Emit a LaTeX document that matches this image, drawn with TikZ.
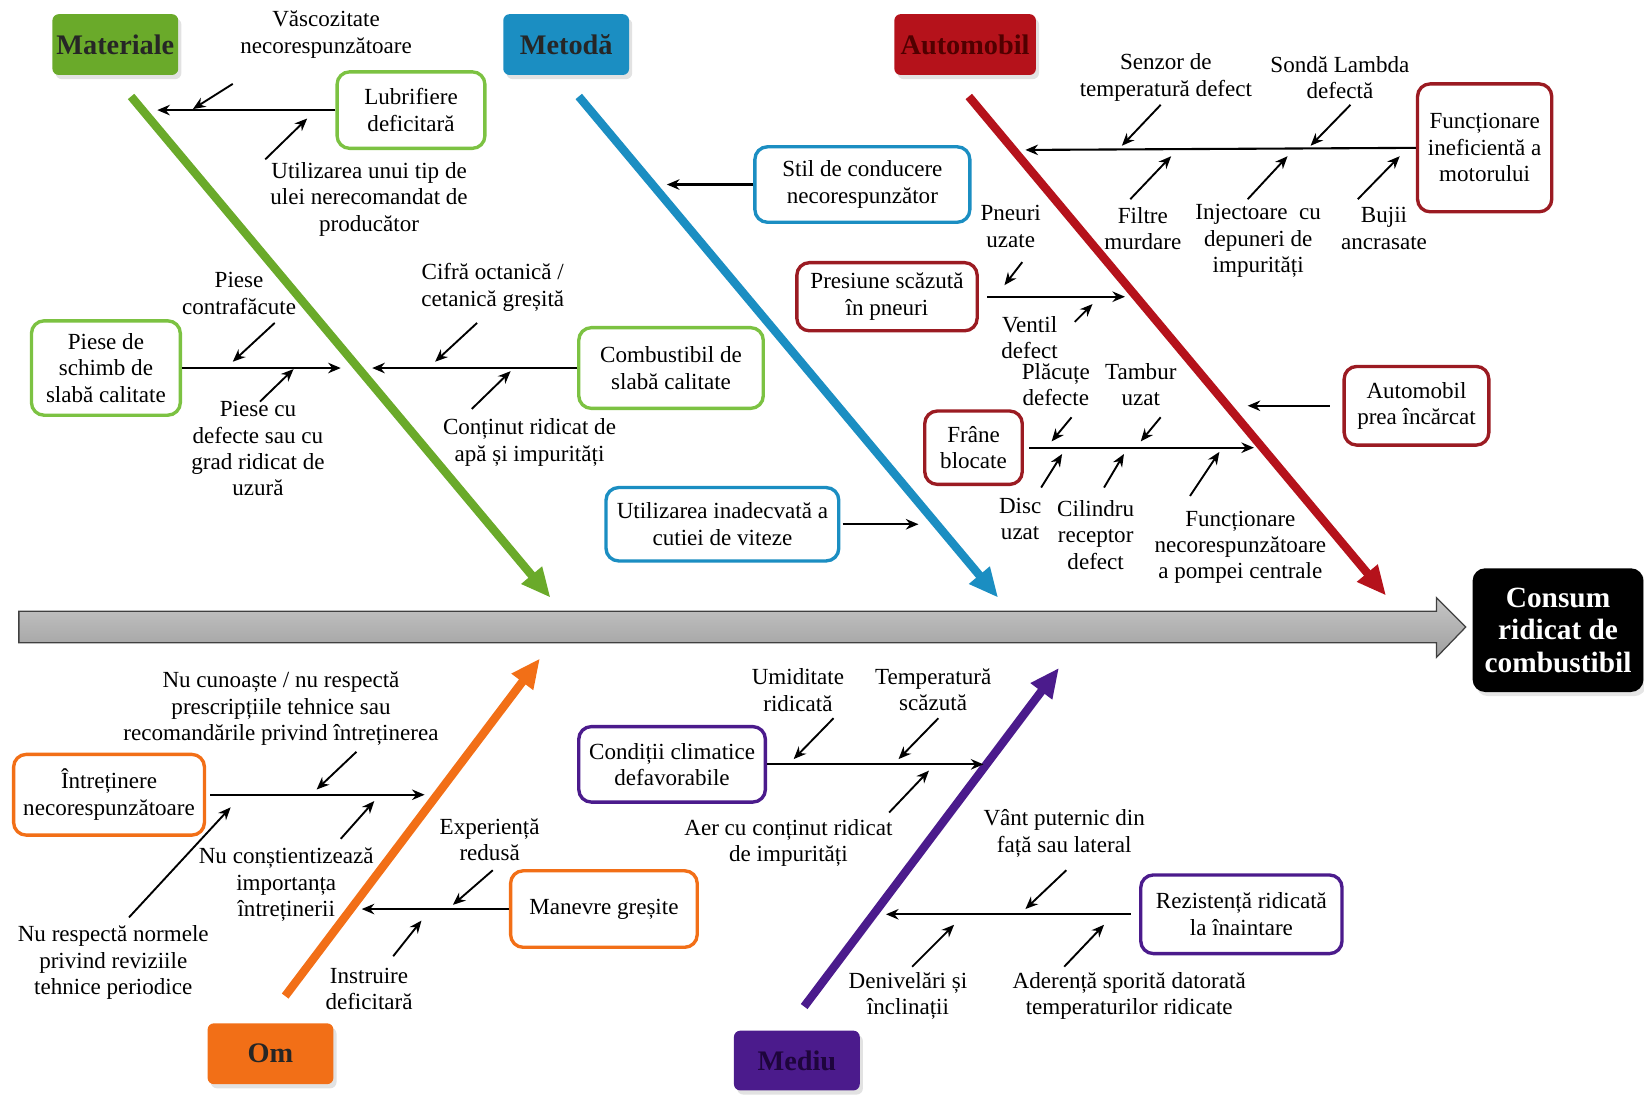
\documentclass[tikz,border=0pt]{standalone}
\usepackage{fontspec}
\setmainfont{Liberation Serif}
\usetikzlibrary{arrows.meta,shadows}
\definecolor{cgreen}{HTML}{6AAA2A}
\definecolor{cgreenL}{HTML}{7CC242}
\definecolor{cblue}{HTML}{1B8EC2}
\definecolor{cred}{HTML}{B5121B}
\definecolor{cdred}{HTML}{9B1B22}
\definecolor{corange}{HTML}{F26F17}
\definecolor{cpurple}{HTML}{4B1B8C}
\begin{document}
\begin{tikzpicture}[x=0.5pt,y=-0.5pt,
  txt/.style={align=center, inner sep=0pt, font=\fontsize{11}{12.6}\selectfont},
  cat/.style={rounded corners=3pt, minimum width=60pt, minimum height=29pt, inner sep=0pt,
     font=\fontsize{13.5}{15}\selectfont\bfseries,
     drop shadow={shadow xshift=1.5pt, shadow yshift=-2pt, fill=gray!45}},
  cause/.style={draw, rounded corners=6pt, fill=white, line width=1.6pt, align=center,
     inner sep=0pt, font=\fontsize{11}{12.6}\selectfont},
  sub/.style={-{Stealth[length=6pt,width=5pt]}, line width=0.9pt, black},
  branch/.style={-{Stealth[length=6pt,width=5pt]}, line width=1pt, black},
  spine/.style={line width=4pt, -{Triangle[length=14pt,width=12pt]}},
]
\useasboundingbox (0,0) rectangle (1568,1046);

% ---------- main arrow ----------
\shade[top color=gray!45, middle color=gray!20, bottom color=gray!75, draw=gray!50!black, line width=0.6pt]
  (18,583) -- (1370,583) -- (1370,570) -- (1398,598) -- (1370,627) -- (1370,613) -- (18,613) -- cycle;
\node[fill=black, rounded corners=6pt, text=white, minimum width=81.5pt, minimum height=59pt,
  align=center, inner sep=0pt, font=\fontsize{14}{15.5}\selectfont\bfseries,
  drop shadow={shadow xshift=1.5pt, shadow yshift=-2pt, fill=gray!40}] (consum) at (1486,601)
  {Consum\\ridicat de\\combustibil};

% ---------- category boxes ----------
\node[cat, fill=cgreen, text=black!85] (mat) at (110,42.5) {Materiale};
\node[cat, fill=cblue, text=black!85] (met) at (540,42.5) {Metodă};
\node[cat, fill=cred, text={rgb,255:red,80;green,0;blue,0}, minimum width=67.5pt] (aut) at (920.5,42.5) {Automobil};
\node[cat, fill=corange, text=black!85] (om) at (258,1005) {Om};
\node[cat, fill=cpurple, text={rgb,255:red,30;green,5;blue,60}, minimum height=28.5pt] (med) at (760,1011.5) {Mediu};

% ---------- spines ----------
\coordinate (gs) at (125,92);  \coordinate (ge) at (525,570);
\coordinate (bs) at (552,92);  \coordinate (be) at (952,570);
\coordinate (rs) at (924,92);  \coordinate (re) at (1322,568);
\coordinate (os) at (272,950); \coordinate (oe) at (515,628);
\coordinate (ps) at (767,960); \coordinate (pe) at (1010,637);
\draw[spine, cgreen] (gs) -- (ge);
\draw[spine, cblue] (bs) -- (be);
\draw[spine, cred] (rs) -- (re);
\draw[spine, corange] (os) -- (oe);
\draw[spine, cpurple] (ps) -- (pe);

% ---------- cause boxes ----------
\node[cause, draw=cgreenL, minimum width=70.5pt, minimum height=36.5pt] (lub) at (392,105) {Lubrifiere\\deficitară};
\node[cause, draw=cgreenL, minimum width=71pt, minimum height=45pt] (piese) at (101,351) {Piese de\\schimb de\\slabă calitate};
\node[cause, draw=cgreenL, minimum width=88pt, minimum height=38.5pt] (comb) at (640,351) {Combustibil de\\slabă calitate};
\node[cause, draw=cblue, minimum width=102.5pt, minimum height=36pt] (stil) at (822.5,176) {Stil de conducere\\necorespunzător};
\node[cause, draw=cblue, minimum width=111pt, minimum height=35pt] (util) at (689,500) {Utilizarea inadecvată a\\cutiei de viteze};
\node[cause, draw=cdred, minimum width=64pt, minimum height=61pt] (func) at (1416,141) {Funcționare\\ineficientă a\\motorului};
\node[cause, draw=cdred, minimum width=86pt, minimum height=32.5pt] (pres) at (846,283) {Presiune scăzută\\în pneuri};
\node[cause, draw=cdred, minimum width=46.5pt, minimum height=35pt] (frane) at (928.5,427) {Frâne\\blocate};
\node[cause, draw=cdred, minimum width=69pt, minimum height=37.5pt] (auto) at (1351,387) {Automobil\\prea încărcat};
\node[cause, draw=corange, minimum width=91pt, minimum height=38.5pt] (intr) at (104,758) {Întreținere\\necorespunzătoare};
\node[cause, draw=corange, minimum width=89pt, minimum height=36.5pt] (man) at (576,867) {Manevre greșite};
\node[cause, draw=cpurple, minimum width=89pt, minimum height=36pt] (cond) at (641,729) {Condiții climatice\\defavorabile};
\node[cause, draw=cpurple, minimum width=96pt, minimum height=37.5pt] (rez) at (1184,872) {Rezistență ridicată\\la înaintare};

% ---------- branch arrows ----------
\coordinate (lubE) at (150,105);
\coordinate (pieseE) at (325,351);
\coordinate (combE) at (355,351);
\coordinate (stilE) at (636,176);
\coordinate (utilE) at (876,500);
\coordinate (funcE) at (978,143);
\coordinate (presE) at (1073,283);
\coordinate (franeE) at (1196,427);
\coordinate (autoE) at (1190,387);
\coordinate (intrE) at (405,758);
\coordinate (manE) at (345,867);
\coordinate (condE) at (938,729);
\coordinate (rezE) at (845,872);
\draw[branch] (lub.west) -- (lubE);
\draw[branch] (piese.east) -- (pieseE);
\draw[branch] (comb.west) -- (combE);
\draw[branch] (stil.west) -- (stilE);
\draw[branch] (util.east) ++(2,0) -- (utilE);
\draw[branch] (func.west) -- (funcE);
\draw[branch] (pres.east) ++(8,0) -- (presE);
\draw[branch] (frane.east) ++(5,0) -- (franeE);
\draw[branch] (auto.west) ++(-12,0) -- (autoE);
\draw[branch] (intr.east) ++(4,0) -- (intrE);
\draw[branch] (man.west) -- (manE);
\draw[branch] (cond.east) -- (condE);
\draw[branch] (rez.west) ++(-8,0) -- (rezE);

% ---------- sub-cause labels ----------
\node[txt] (vasc) at (311,33) {Văscozitate\\necorespunzătoare};
\node[txt] (utiliz) at (352,190) {Utilizarea unui tip de\\ulei nerecomandat de\\producător};
\node[txt] (pcontr) at (228,280) {Piese\\contrafăcute};
\node[txt] (pcu) at (246,428) {Piese cu\\defecte sau cu\\grad ridicat de\\uzură};
\node[txt] (cifra) at (470,274) {Cifră octanică /\\cetanică greșită};
\node[txt] (contin) at (505,422) {Conținut ridicat de\\apă și impurități};
\node[txt] (senzor) at (1112,74) {Senzor de\\temperatură defect};
\node[txt] (sonda) at (1278,74) {Sondă Lambda\\defectă};
\node[txt] (filtre) at (1090,218) {Filtre\\murdare};
\node[txt] (inject) at (1200,230) {Injectoare\ \ cu\\depuneri de\\impurități};
\node[txt] (bujii) at (1320,218) {Bujii\\ancrasate};
\node[txt] (pneuri) at (964,216) {Pneuri\\uzate};
\node[txt] (ventil) at (982,322) {Ventil\\defect};
\node[txt] (placute) at (1007,367) {Plăcuțe\\defecte};
\node[txt] (tambur) at (1088,367) {Tambur\\uzat};
\node[txt] (disc) at (973,495) {Disc\\uzat};
\node[txt] (cilindru) at (1045,510) {Cilindru\\receptor\\defect};
\node[txt] (pompa) at (1183,522) {Funcționare\\necorespunzătoare\\a pompei centrale};
\node[txt] (nucun) at (268,676) {Nu cunoaște / nu respectă\\prescripțiile tehnice sau\\recomandările privind întreținerea};
\node[txt] (nucon) at (273,844) {Nu conștientizează\\importanța\\întreținerii};
\node[txt] (nuresp) at (108,918) {Nu respectă normele\\privind reviziile\\tehnice periodice};
\node[txt] (exper) at (467,801) {Experiență\\redusă};
\node[txt] (instr) at (352,943) {Instruire\\deficitară};
\node[txt] (umid) at (761,658) {Umiditate\\ridicată};
\node[txt] (temp) at (890,658) {Temperatură\\scăzută};
\node[txt] (aer) at (752,804) {Aer cu conținut ridicat\\de impurități};
\node[txt] (vant) at (1015,795) {Vânt puternic din\\față sau lateral};
\node[txt] (deniv) at (866,950) {Denivelări și\\înclinații};
\node[txt] (aderenta) at (1077,950) {Aderență sporită datorată\\temperaturilor ridicate};

% ---------- sub-cause arrows ----------
\path (222,80) coordinate (a1s) (184,104) coordinate (a1e)
      (253,152) coordinate (a2s) (293,113) coordinate (a2e)
      (262,308) coordinate (a3s) (222,345) coordinate (a3e)
      (248,383) coordinate (a4s) (280,352) coordinate (a4e)
      (455,308) coordinate (a5s) (415,345) coordinate (a5e)
      (450,390) coordinate (a6s) (487,354) coordinate (a6e)
      (1107,100) coordinate (a7s) (1070,139) coordinate (a7e)
      (1288,100) coordinate (a8s) (1250,139) coordinate (a8e)
      (1078,190) coordinate (a9s) (1117,149) coordinate (a9e)
      (1190,190) coordinate (a10s) (1228,149) coordinate (a10e)
      (1295,190) coordinate (a11s) (1335,149) coordinate (a11e)
      (975,250) coordinate (a12s) (958,272) coordinate (a12e)
      (1025,307) coordinate (a13s) (1042,290) coordinate (a13e)
      (1022,398) coordinate (a14s) (1003,421) coordinate (a14e)
      (1107,398) coordinate (a15s) (1088,421) coordinate (a15e)
      (993,465) coordinate (a16s) (1013,433) coordinate (a16e)
      (1053,465) coordinate (a17s) (1072,433) coordinate (a17e)
      (1135,473) coordinate (a18s) (1163,431) coordinate (a18e)
      (340,717) coordinate (a19s) (302,753) coordinate (a19e)
      (325,800) coordinate (a20s) (357,764) coordinate (a20e)
      (123,875) coordinate (a21s) (220,770) coordinate (a21e)
      (470,830) coordinate (a22s) (432,863) coordinate (a22e)
      (375,912) coordinate (a23s) (402,878) coordinate (a23e)
      (795,685) coordinate (a24s) (757,724) coordinate (a24e)
      (895,685) coordinate (a25s) (857,724) coordinate (a25e)
      (848,775) coordinate (a26s) (886,735) coordinate (a26e)
      (1017,830) coordinate (a27s) (978,867) coordinate (a27e)
      (870,922) coordinate (a28s) (910,882) coordinate (a28e)
      (1015,922) coordinate (a29s) (1053,882) coordinate (a29e);
\foreach \i in {1,...,29} {\draw[sub] (a\i s) -- (a\i e);}
\end{tikzpicture}
\end{document}
